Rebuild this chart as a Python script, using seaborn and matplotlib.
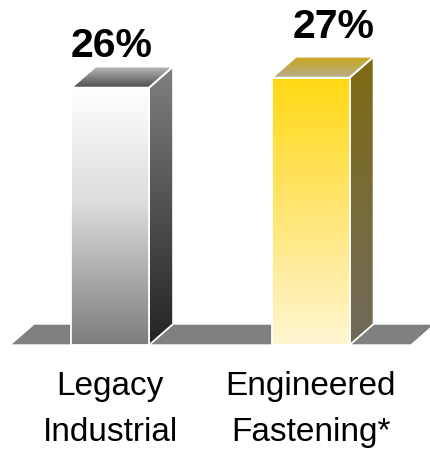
import numpy as np
import pandas as pd
import matplotlib
matplotlib.use("Agg")
import matplotlib.pyplot as plt
from matplotlib.colors import LinearSegmentedColormap
from matplotlib.patches import Polygon
import seaborn as sns

# ---- data -------------------------------------------------------------
categories = ["Legacy\nIndustrial", "Engineered\nFastening*"]
values = [26, 27]
value_labels = [f"{v}%" for v in values]

# ---- styling ----------------------------------------------------------
# gradient stops listed from the top of each face to its bottom
front_stops = [
    [(0.0, "#ffffff"), (0.45, "#dcdcdc"), (1.0, "#7d7d7d")],
    [(0.0, "#ffd914"), (0.45, "#ffe46a"), (1.0, "#fff6d2")],
]
side_stops = [
    [(0.0, "#808080"), (1.0, "#232323")],
    [(0.0, "#7f6a12"), (1.0, "#6f6a5c")],
]
top_stops = [
    [(0.0, "#b8b8b8"), (1.0, "#4a4a4a")],
    [(0.0, "#c9a61c"), (1.0, "#b6ae8e")],
]
floor_color = "#808080"
depth_px = (24, 21)                              # oblique depth of bars / floor
label_offsets_pt = [(1.2, 21.8), (16.2, 28.8)]   # value label offsets

sns.set_theme(style="white")
plt.rcParams["font.family"] = ["Liberation Sans", "DejaVu Sans"]

W, H = 431, 455
fig = plt.figure(figsize=(W / 100, H / 100), dpi=100)
ax = fig.add_axes([0, 110 / H, 1, 345 / H])

df = pd.DataFrame({"segment": categories, "share": values})
sns.barplot(data=df, x="segment", y="share", width=0.387, color="#808080",
            errorbar=None, ax=ax, zorder=3)

XLIM = (-0.5501, 1.5995)
YLIM = (0, 34.85)
ax.set_xlim(*XLIM)
ax.set_ylim(*YLIM)

# convert the pixel depth into data units
sx = ax.bbox.width / (XLIM[1] - XLIM[0])
sy = ax.bbox.height / (YLIM[1] - YLIM[0])
dx, dy = depth_px[0] / sx, depth_px[1] / sy


def shade(verts, stops, z, clip=None):
    """Fill a polygon with a vertical gradient and a white outline."""
    verts = np.asarray(verts)
    if clip is None:
        clip = Polygon(verts, closed=True, facecolor="none",
                       edgecolor="white", lw=1.3, zorder=z + 0.5)
        ax.add_patch(clip)
    cmap = LinearSegmentedColormap.from_list("face", stops)
    grad = np.linspace(0, 1, 256).reshape(-1, 1)
    im = ax.imshow(grad, cmap=cmap, origin="upper", aspect="auto",
                   interpolation="bilinear", zorder=z,
                   extent=(verts[:, 0].min(), verts[:, 0].max(),
                           verts[:, 1].min(), verts[:, 1].max()))
    im.set_clip_path(clip)


# floor slab under the bars
n = len(values)
floor = Polygon([(-0.5, 0), (n - 0.5, 0), (n - 0.5 + dx, dy), (-0.5 + dx, dy)],
                closed=True, facecolor=floor_color, edgecolor="white",
                lw=1.0, zorder=1)
ax.add_patch(floor)

bars = list(ax.patches)[:n]
for i, p in enumerate(bars):
    x0, w, h = p.get_x(), p.get_width(), p.get_height()
    x1 = x0 + w
    # front face: the seaborn bar itself, filled with a gradient
    p.set_facecolor("none")
    p.set_edgecolor("white")
    p.set_linewidth(1.3)
    p.set_zorder(4.5)
    shade([(x0, 0), (x1, 0), (x1, h), (x0, h)], front_stops[i], 4, clip=p)
    # right side face
    shade([(x1, 0), (x1 + dx, dy), (x1 + dx, h + dy), (x1, h)],
          side_stops[i], 2)
    # top face
    shade([(x0, h), (x1, h), (x1 + dx, h + dy), (x0 + dx, h + dy)],
          top_stops[i], 2)
    # value label
    ax.annotate(value_labels[i], xy=(x0 + w / 2, h),
                xytext=label_offsets_pt[i], textcoords="offset points",
                ha="center", va="baseline", fontsize=29.5,
                fontweight="bold", color="black", zorder=6)

ax.set_xlim(*XLIM)
ax.set_ylim(*YLIM)
ax.set_xlabel("")
ax.set_ylabel("")
ax.set_yticks([])
ax.tick_params(axis="x", length=0, pad=19, labelsize=24, colors="black")
for lbl in ax.get_xticklabels():
    lbl.set_linespacing(1.62)
for s in ax.spines.values():
    s.set_visible(False)
ax.patch.set_alpha(0)

fig.savefig("out.png", dpi=100)
